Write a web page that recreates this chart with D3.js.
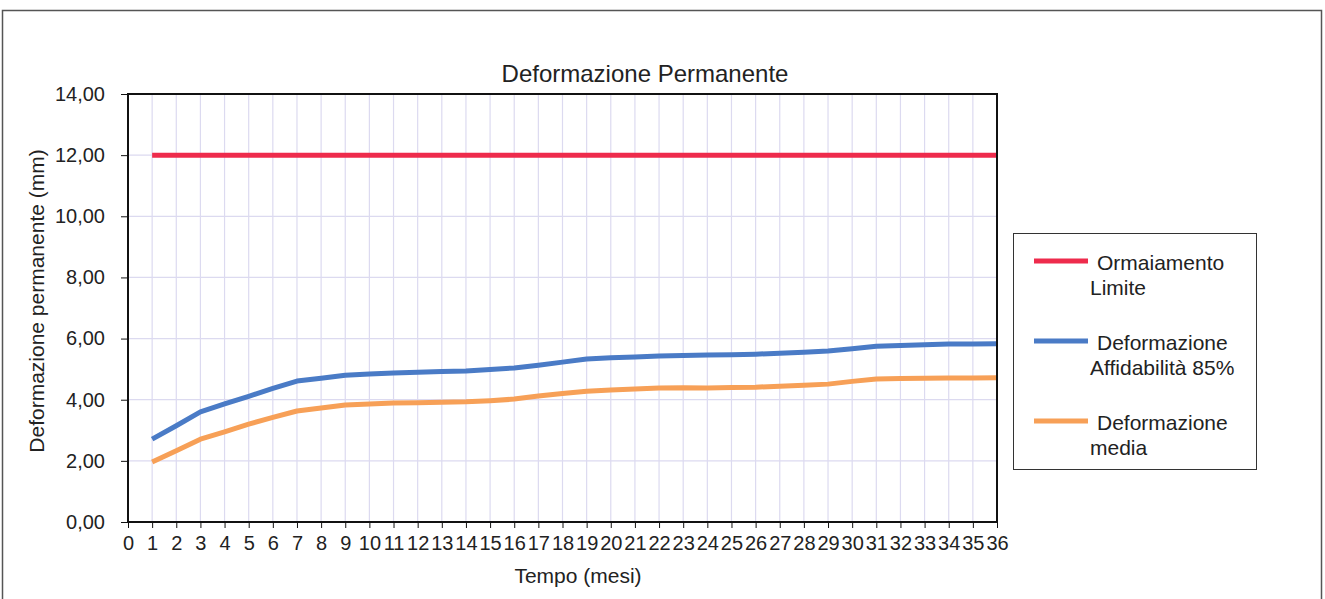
<!DOCTYPE html>
<html lang="it">
<head>
<meta charset="utf-8"/>
<title>Deformazione Permanente</title>
<script src="https://d3js.org/d3.v7.min.js"></script>
<style>
  body { margin: 0; background: #fff; font-family: "Liberation Sans", Arial, sans-serif; }
  .grid line { stroke: #dcdaf0; stroke-width: 1.2px; }
  .axis text { font-size: 20px; fill: #222; font-family: "Liberation Sans", Arial, sans-serif; }
  .axis path, .axis line { stroke: #111; }
  .serie { fill: none; stroke-width: 5px; stroke-linejoin: round; }
</style>
</head>
<body>
<div id="chart"></div>
<script>
// mesi sull'asse x
var mesi = d3.range(1, 37);

// Ormaiamento limite (mm)
var limite = [12,12,12,12,12,12,12,12,12,12,12,12,12,12,12,12,12,12,
              12,12,12,12,12,12,12,12,12,12,12,12,12,12,12,12,12,12];

// Deformazione affidabilita 85% (mm)
var affid85 = [2.71, 3.15, 3.60, 3.86, 4.11, 4.37, 4.61, 4.70, 4.80, 4.84,
               4.87, 4.90, 4.92, 4.94, 4.99, 5.04, 5.13, 5.23, 5.33, 5.37,
               5.40, 5.43, 5.45, 5.46, 5.47, 5.49, 5.52, 5.55, 5.59, 5.67,
               5.75, 5.77, 5.80, 5.82, 5.82, 5.83];

// Deformazione media (mm)
var media = [1.96, 2.33, 2.71, 2.95, 3.20, 3.42, 3.63, 3.73, 3.83, 3.86,
             3.89, 3.90, 3.92, 3.93, 3.97, 4.02, 4.12, 4.20, 4.28, 4.32,
             4.35, 4.38, 4.39, 4.38, 4.40, 4.41, 4.44, 4.47, 4.51, 4.60,
             4.68, 4.69, 4.70, 4.71, 4.71, 4.72];

var yTicks = [0, 2, 4, 6, 8, 10, 12, 14];

var serie = [
  { nome: ["Ormaiamento", "Limite"], valori: limite, colore: "#ee2b4c" },
  { nome: ["Deformazione", "Affidabilità 85%"], valori: affid85, colore: "#4a7bc6" },
  { nome: ["Deformazione", "media"], valori: media, colore: "#f7a057" }
];

var W = 1325, H = 599;
var margin = { top: 94, left: 128, right: 328, bottom: 77 },
    width = W - margin.left - margin.right,
    height = H - margin.top - margin.bottom;

var it = d3.formatLocale({ decimal: ",", thousands: ".", grouping: [3], currency: ["", "€"] });
var fmt = it.format(".2f");

var svg = d3.select("#chart").append("svg")
    .attr("width", W)
    .attr("height", H)
    .attr("font-family", "'Liberation Sans', Arial, sans-serif");

// cornice esterna
svg.append("rect")
    .attr("x", 2.5).attr("y", 10.5)
    .attr("width", 1319).attr("height", 600)
    .attr("fill", "none")
    .attr("stroke", "#555")
    .attr("stroke-width", 1.5);

var g = svg.append("g")
    .attr("transform", "translate(" + margin.left + "," + margin.top + ")");

var x = d3.scaleLinear().domain([0, 36]).range([0, width]);
var y = d3.scaleLinear().domain([0, 14]).range([height, 0]);

// griglia
g.append("g").attr("class", "grid")
  .selectAll("line").data(d3.range(1, 36)).enter().append("line")
    .attr("x1", function(d) { return x(d); })
    .attr("x2", function(d) { return x(d); })
    .attr("y1", 0).attr("y2", height);

g.append("g").attr("class", "grid")
  .selectAll("line").data(yTicks.slice(1, -1)).enter().append("line")
    .attr("x1", 0).attr("x2", width)
    .attr("y1", function(d) { return y(d); })
    .attr("y2", function(d) { return y(d); });

// assi
g.append("g")
    .attr("class", "axis")
    .attr("transform", "translate(0," + height + ")")
    .call(d3.axisBottom(x).tickValues(d3.range(0, 37)).tickFormat(d3.format("d")).tickSize(6).tickSizeOuter(0))
    .call(function(s) { s.select(".domain").remove(); s.selectAll("text").attr("dy", "0.95em"); });

g.append("g")
    .attr("class", "axis")
    .call(d3.axisLeft(y).tickValues(yTicks).tickFormat(fmt).tickSize(7).tickPadding(16).tickSizeOuter(0))
    .call(function(s) { s.select(".domain").remove(); });

// linee
var line = d3.line()
    .x(function(d, i) { return x(mesi[i]); })
    .y(function(d) { return y(d); });

g.selectAll(".serie").data(serie).enter().append("path")
    .attr("class", "serie")
    .attr("stroke", function(d) { return d.colore; })
    .attr("d", function(d) { return line(d.valori); });

// riquadro del grafico
g.append("rect")
    .attr("width", width).attr("height", height)
    .attr("fill", "none")
    .attr("stroke", "#111")
    .attr("stroke-width", 2);

// titoli
svg.append("text")
    .attr("x", 645).attr("y", 82)
    .attr("text-anchor", "middle")
    .attr("font-size", 24)
    .attr("fill", "#222")
    .text("Deformazione Permanente");

svg.append("text")
    .attr("x", 578).attr("y", 583)
    .attr("text-anchor", "middle")
    .attr("font-size", 21)
    .attr("fill", "#222")
    .text("Tempo (mesi)");

svg.append("text")
    .attr("transform", "translate(44,301) rotate(-90)")
    .attr("text-anchor", "middle")
    .attr("font-size", 21)
    .attr("fill", "#222")
    .text("Deformazione permanente (mm)");

// legenda
var leg = svg.append("g").attr("transform", "translate(1013,233)");
leg.append("rect")
    .attr("x", 0.5).attr("y", 0.5)
    .attr("width", 243).attr("height", 236)
    .attr("fill", "#fff")
    .attr("stroke", "#333")
    .attr("stroke-width", 1);

var voce = leg.selectAll(".voce").data(serie).enter().append("g")
    .attr("class", "voce")
    .attr("transform", function(d, i) { return "translate(0," + (28 + i * 80) + ")"; });

voce.append("line")
    .attr("x1", 21).attr("x2", 75)
    .attr("stroke", function(d) { return d.colore; })
    .attr("stroke-width", 5);

voce.append("text")
    .attr("font-size", 21)
    .attr("fill", "#222")
    .each(function(d) {
      var t = d3.select(this);
      t.append("tspan").attr("x", 84).attr("y", 9).text(d.nome[0]);
      t.append("tspan").attr("x", 77).attr("y", 34).text(d.nome[1]);
    });
</script>
</body>
</html>
